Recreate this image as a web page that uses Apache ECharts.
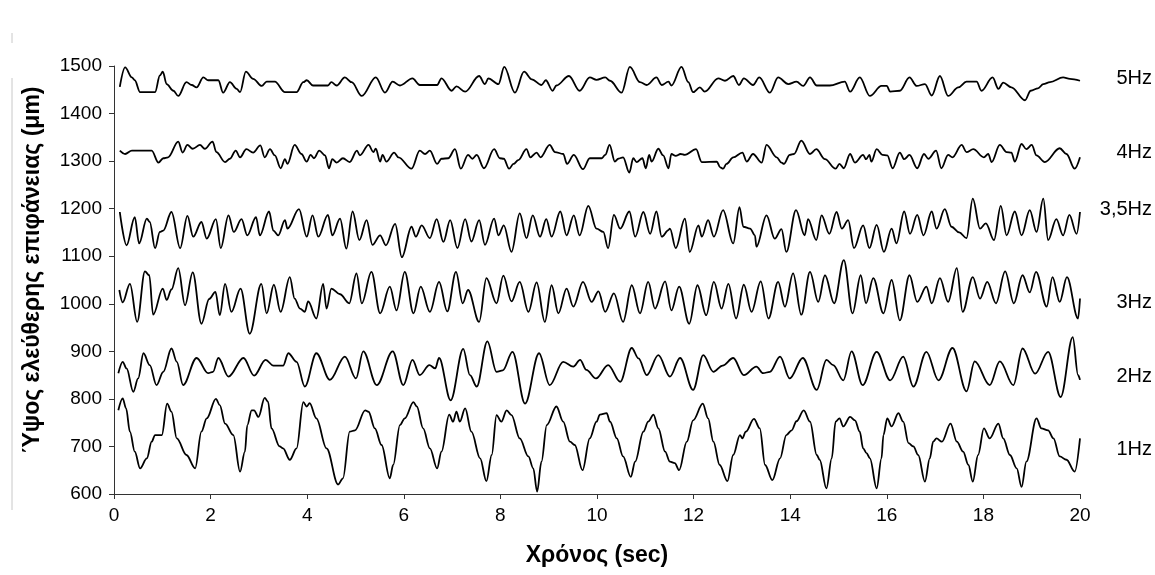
<!DOCTYPE html>
<html>
<head>
<meta charset="utf-8">
<script src="https://cdn.jsdelivr.net/npm/echarts@6/dist/echarts.min.js"></script>
<style>
html,body{margin:0;padding:0;background:#fff;}
#chart{width:1155px;height:575px;}
</style>
</head>
<body>
<div id="chart"></div>
<script>
// ---- DATA (time in sec, height in μm) ----
const seriesNames = ['5Hz', '4Hz', '3,5Hz', '3Hz', '2Hz', '1Hz'];
const labelValues = [1474, 1318, 1198, 1003, 848, 693];

const hz5 = [
[0.12,1456],[0.23,1497],[0.37,1476],[0.43,1470],[0.54,1445],[0.85,1445],[0.95,1480],[1.01,1488],[1.09,1462],[1.23,1448],[1.33,1437],[1.50,1466],[1.61,1460],[1.71,1455],[1.85,1476],[1.95,1470],[2.16,1470],[2.26,1444],[2.40,1466],[2.54,1452],[2.61,1445],[2.73,1488],[2.88,1473],[3.06,1458],[3.16,1467],[3.33,1467],[3.54,1445],[3.78,1445],[3.92,1466],[3.99,1470],[4.12,1459],[4.43,1459],[4.50,1466],[4.61,1459],[4.78,1476],[4.92,1466],
[5.13,1437],[5.42,1476],[5.61,1444],[5.77,1467],[5.92,1459],[6.18,1474],[6.33,1460],[6.69,1460],[6.78,1474],[6.99,1448],[7.09,1457],[7.27,1446],[7.56,1479],[7.68,1462],[7.75,1474],[7.96,1462],[8.08,1498],[8.30,1444],[8.49,1488],[8.65,1472],[8.85,1460],[8.94,1470],[9.08,1448],[9.16,1459],[9.42,1479],[9.64,1448],[9.85,1476],
[9.99,1471],[10.17,1476],[10.27,1469],[10.51,1444],[10.68,1498],[10.89,1466],[11.03,1460],[11.23,1476],[11.34,1460],[11.48,1467],[11.54,1459],[11.75,1498],[11.89,1466],[11.99,1445],[12.13,1455],[12.23,1446],[12.51,1474],[12.65,1469],[12.82,1479],[12.94,1460],[13.04,1474],[13.23,1460],[13.36,1476],[13.58,1444],[13.75,1476],[13.96,1462],[14.13,1467],[14.27,1458],[14.41,1476],[14.55,1459],[14.82,1459],
[15.13,1467],[15.24,1446],[15.44,1476],[15.65,1437],[15.89,1458],[16.00,1458],[16.07,1446],[16.27,1448],[16.47,1476],[16.62,1458],[16.79,1462],[16.93,1438],[17.10,1479],[17.27,1437],[17.48,1455],[17.65,1467],[17.86,1467],[17.96,1448],[18.19,1476],[18.31,1452],[18.41,1465],[18.58,1455],[18.86,1428],[18.98,1448],[19.13,1453],[19.24,1462],[19.38,1466],[19.65,1476],[19.79,1473],[20.0,1469]
];

const hz4 = [
[0.12,1322],[0.23,1315],[0.37,1322],[0.78,1322],[0.92,1297],[1.02,1306],[1.12,1308],[1.33,1341],[1.42,1318],[1.52,1334],[1.63,1326],[1.78,1334],[1.88,1326],[2.04,1341],[2.12,1319],[2.30,1298],[2.40,1305],[2.52,1322],[2.61,1308],[2.74,1325],[2.88,1318],[3.03,1333],[3.12,1308],[3.23,1325],[3.33,1312],[3.45,1285],[3.54,1304],[3.59,1294],[3.74,1334],[3.88,1315],[3.99,1299],[4.07,1313],[4.14,1306],[4.25,1322],[4.37,1312],[4.45,1285],[4.52,1304],[4.61,1297],[4.74,1306],[4.88,1298],[5.03,1322],
[5.09,1312],[5.27,1334],[5.37,1319],[5.42,1326],[5.51,1299],[5.56,1313],[5.64,1299],[5.80,1318],[5.89,1308],[6.16,1284],[6.33,1322],[6.44,1315],[6.54,1322],[6.69,1294],[6.78,1305],[6.92,1306],[7.06,1325],[7.18,1284],[7.33,1313],[7.42,1305],[7.51,1313],[7.66,1285],[7.87,1325],[7.99,1306],[8.07,1305],[8.18,1284],[8.27,1294],[8.37,1302],[8.54,1325],[8.62,1308],[8.75,1318],[8.83,1308],[9.02,1334],[9.13,1319],[9.30,1315],[9.38,1294],[9.52,1313],[9.71,1283],[9.85,1306],
[10.10,1306],[10.17,1313],[10.26,1334],[10.37,1299],[10.44,1305],[10.54,1308],[10.67,1276],[10.75,1306],[10.82,1298],[10.94,1306],[11.01,1285],[11.08,1313],[11.13,1299],[11.27,1326],[11.37,1312],[11.48,1285],[11.54,1315],[11.63,1311],[11.73,1315],[11.82,1313],[12.05,1325],[12.17,1298],[12.48,1299],[12.55,1287],[12.61,1284],[12.68,1294],[12.82,1308],[13.01,1318],[13.10,1299],[13.23,1315],[13.41,1297],[13.51,1334],[13.72,1308],[13.82,1297],[13.87,1294],[13.99,1313],[14.08,1315],[14.23,1343],[14.41,1315],[14.54,1325],[14.72,1304],[14.94,1284],
[15.02,1294],[15.11,1285],[15.24,1315],[15.34,1297],[15.51,1313],[15.57,1304],[15.64,1313],[15.68,1299],[15.79,1325],[15.91,1313],[16.01,1312],[16.12,1285],[16.27,1318],[16.36,1304],[16.47,1313],[16.63,1285],[16.77,1315],[16.86,1305],[17.02,1322],[17.13,1285],[17.27,1313],[17.36,1308],[17.55,1334],[17.65,1319],[17.79,1325],[18.01,1308],[18.10,1315],[18.17,1298],[18.34,1334],[18.48,1319],[18.58,1318],[18.65,1299],[18.79,1336],[18.89,1325],[19.00,1334],[19.10,1312],[19.27,1298],[19.58,1327],[19.72,1315],[19.89,1284],[20.0,1308]
];

const hz35 = [
[0.12,1193],[0.26,1123],[0.43,1182],[0.52,1127],[0.68,1179],[0.74,1172],[0.85,1117],[0.95,1151],[1.02,1154],[1.19,1193],[1.37,1117],[1.52,1185],[1.64,1141],[1.81,1172],[1.92,1137],[2.11,1178],[2.21,1117],[2.37,1186],[2.48,1151],[2.64,1178],[2.76,1144],[2.94,1182],[3.02,1144],[3.21,1194],[3.30,1154],[3.40,1144],[3.54,1176],[3.59,1158],[3.83,1199],[3.99,1141],[4.11,1186],[4.23,1141],[4.43,1187],[4.52,1144],[4.68,1179],[4.81,1116],[4.94,1194],
[5.08,1134],[5.23,1176],[5.35,1124],[5.51,1144],[5.63,1123],[5.82,1168],[5.96,1098],[6.16,1162],[6.25,1141],[6.37,1165],[6.54,1138],[6.68,1178],[6.82,1130],[6.96,1176],[7.11,1117],[7.27,1178],[7.40,1131],[7.56,1176],[7.68,1124],[7.87,1179],[7.96,1144],[8.07,1165],[8.23,1109],[8.40,1190],[8.54,1138],[8.67,1186],[8.82,1141],[8.95,1178],[9.06,1141],[9.24,1194],[9.37,1144],[9.52,1186],[9.64,1144],[9.82,1206],
[9.99,1158],[10.13,1151],[10.23,1117],[10.35,1187],[10.48,1158],[10.67,1194],[10.79,1141],[10.96,1193],[11.10,1147],[11.23,1194],[11.34,1141],[11.48,1155],[11.51,1158],[11.63,1117],[11.82,1179],[11.92,1109],[12.10,1165],[12.17,1141],[12.30,1176],[12.42,1141],[12.61,1197],[12.82,1127],[12.95,1203],[13.03,1162],[13.17,1158],[13.27,1144],[13.30,1120],[13.51,1186],[13.68,1137],[13.82,1157],[13.92,1109],[14.12,1197],[14.30,1144],[14.37,1178],[14.54,1134],[14.65,1186],[14.81,1147],[14.96,1193],
[15.07,1158],[15.20,1176],[15.32,1117],[15.51,1165],[15.64,1117],[15.79,1166],[15.94,1109],[16.10,1158],[16.20,1127],[16.36,1194],[16.48,1147],[16.63,1187],[16.76,1144],[16.93,1194],[17.03,1158],[17.20,1199],[17.34,1162],[17.50,1150],[17.65,1138],[17.78,1221],[17.93,1158],[18.05,1169],[18.22,1134],[18.36,1206],[18.48,1144],[18.65,1194],[18.79,1144],[18.96,1197],[19.10,1151],[19.24,1221],[19.34,1134],[19.51,1178],[19.65,1144],[19.78,1187],[19.93,1147],[20.0,1193]
];

const hz3 = [
[0.11,1029],[0.18,1003],[0.33,1042],[0.48,962],[0.64,1068],[0.73,1060],[0.81,977],[1.01,1032],[1.09,1008],[1.19,1030],[1.33,1075],[1.47,997],[1.63,1066],[1.81,958],[1.97,1010],[2.10,1025],[2.19,976],[2.30,1042],[2.43,983],[2.62,1032],[2.81,937],[3.05,1042],[3.16,980],[3.31,1040],[3.45,983],[3.64,1056],[3.74,1011],[3.85,990],[3.95,983],[4.02,1005],[4.19,969],[4.33,1042],[4.40,990],[4.50,1032],[4.68,1020],[4.87,1001],[5.02,1064],
[5.13,1001],[5.33,1067],[5.51,980],[5.71,1036],[5.85,986],[6.02,1067],[6.20,980],[6.35,1036],[6.54,983],[6.73,1046],[6.90,984],[7.08,1067],[7.22,1001],[7.33,1029],[7.56,962],[7.71,1054],[7.92,1001],[8.06,1059],[8.23,1005],[8.40,1046],[8.58,983],[8.75,1045],[8.92,962],[9.06,1039],[9.20,980],[9.37,1032],[9.51,994],[9.71,1046],[9.89,1004],
[10.03,1026],[10.17,983],[10.35,1022],[10.54,962],[10.72,1039],[10.89,980],[11.06,1046],[11.20,990],[11.41,1047],[11.54,986],[11.70,1036],[11.91,958],[12.08,1039],[12.26,976],[12.42,1046],[12.58,990],[12.72,1042],[12.88,969],[13.04,1040],[13.20,983],[13.39,1047],[13.55,969],[13.75,1046],[13.89,994],[14.06,1064],[14.23,977],[14.41,1067],[14.58,1004],[14.72,1060],[14.91,1001],
[15.11,1092],[15.29,980],[15.46,1060],[15.57,1001],[15.72,1054],[15.93,980],[16.10,1050],[16.27,965],[16.47,1060],[16.63,1004],[16.82,1036],[16.93,1001],[17.10,1054],[17.27,1004],[17.45,1075],[17.57,983],[17.78,1056],[17.93,1011],[18.08,1046],[18.26,1001],[18.45,1068],[18.63,1001],[18.81,1060],[18.96,1024],[19.09,1067],[19.31,994],[19.43,1056],[19.58,1004],[19.73,1056],[19.96,969],[20.0,1011]
];

const hz2 = [
[0.09,854],[0.18,878],[0.26,864],[0.40,815],[0.50,843],[0.61,896],[0.74,871],[0.88,829],[1.02,857],[1.19,906],[1.30,878],[1.43,829],[1.71,886],[1.95,854],[2.05,857],[2.16,886],[2.37,847],[2.68,886],[2.90,849],[3.14,882],[3.30,870],[3.50,870],[3.61,896],[3.78,878],[3.95,826],[4.19,896],[4.47,840],[4.78,889],[5.01,843],
[5.16,900],[5.44,829],[5.77,900],[5.99,829],[6.18,882],[6.33,850],[6.53,871],[6.65,864],[6.73,886],[6.97,797],[7.23,905],[7.37,850],[7.51,826],[7.73,921],[7.92,857],[8.05,860],[8.25,899],[8.51,790],[8.80,896],[9.02,829],[9.30,878],[9.51,868],[9.65,882],[9.78,861],[9.98,843],
[10.23,871],[10.48,836],[10.72,907],[10.86,885],[11.03,850],[11.27,892],[11.51,847],[11.72,886],[11.99,819],[12.20,892],[12.41,857],[12.60,870],[12.82,886],[13.04,850],[13.30,868],[13.44,854],[13.58,857],[13.79,889],[13.99,843],[14.26,886],[14.55,819],[14.75,882],[14.89,871],
[15.10,839],[15.27,900],[15.50,829],[15.79,899],[16.07,839],[16.34,889],[16.55,826],[16.82,899],[17.07,839],[17.36,907],[17.65,816],[17.82,879],[18.13,829],[18.34,879],[18.62,829],[18.81,906],[19.07,853],[19.34,899],[19.60,804],[19.85,930],[19.96,850],[20.0,840]
];

const hz1 = [
[0.09,776],[0.18,801],[0.25,780],[0.33,731],[0.43,689],[0.54,654],[0.68,675],[0.78,710],[0.85,724],[0.99,724],[1.10,790],[1.19,773],[1.30,717],[1.50,682],[1.68,654],[1.81,731],[1.92,759],[2.11,800],[2.19,787],[2.30,748],[2.47,724],[2.61,647],[2.71,689],[2.76,745],[2.85,776],[2.90,776],[2.99,762],[3.12,802],[3.19,794],[3.26,738],[3.43,700],[3.50,696],[3.64,672],[3.78,696],[3.92,793],[3.99,784],[4.05,791],[4.19,759],[4.40,696],[4.64,620],[4.74,633],[4.88,731],[4.99,734],
[5.20,776],[5.27,773],[5.40,738],[5.54,703],[5.71,633],[5.78,661],[5.92,745],[6.02,759],[6.20,793],[6.27,784],[6.40,738],[6.54,696],[6.69,654],[6.78,689],[6.94,767],[7.02,752],[7.09,773],[7.16,752],[7.27,780],[7.40,731],[7.58,675],[7.71,627],[7.82,682],[7.92,766],[8.02,752],[8.13,776],[8.23,766],[8.40,717],[8.58,679],[8.68,654],[8.76,605],[8.85,668],[8.96,745],[9.16,784],[9.30,752],[9.44,710],[9.54,703],[9.70,650],[9.85,717],[9.99,752],
[10.06,767],[10.20,770],[10.27,752],[10.41,717],[10.54,679],[10.70,636],[10.79,668],[10.96,731],[11.06,752],[11.17,767],[11.27,738],[11.41,689],[11.51,668],[11.61,665],[11.70,650],[11.86,710],[11.99,755],[12.19,790],[12.30,759],[12.41,710],[12.54,661],[12.70,627],[12.82,682],[12.96,724],[13.01,717],[13.08,731],[13.25,758],[13.37,738],[13.48,661],[13.63,629],[13.79,675],[13.92,724],[14.03,734],[14.13,753],[14.28,776],[14.41,752],[14.55,682],[14.61,672],[14.75,612],[14.86,675],[14.94,752],
[15.02,759],[15.10,742],[15.24,762],[15.34,755],[15.44,731],[15.51,696],[15.58,686],[15.65,675],[15.79,612],[15.89,675],[15.93,724],[16.01,759],[16.10,742],[16.24,770],[16.34,752],[16.45,707],[16.55,700],[16.65,682],[16.79,626],[16.89,675],[16.96,710],[17.03,717],[17.14,710],[17.32,748],[17.45,710],[17.58,689],[17.69,661],[17.78,626],[17.89,682],[18.01,738],[18.13,717],[18.31,748],[18.41,717],[18.55,682],[18.69,654],[18.79,615],[18.89,668],[19.10,759],[19.20,738],[19.34,734],[19.45,717],[19.58,679],[19.72,672],[19.89,647],[20.0,717]
];

const allSeries = [hz5, hz4, hz35, hz3, hz2, hz1];

// ---- CHART ----
const chart = echarts.init(document.getElementById('chart'), null, {renderer: 'canvas'});
const FONT = '"Liberation Sans", Arial, sans-serif';

const lineSeries = allSeries.map((d, i) => ({
  name: seriesNames[i],
  type: 'line',
  data: d,
  showSymbol: false,
  smooth: 0.35,
  smoothMonotone: 'x',
  lineStyle: {color: '#000', width: 1.8},
  silent: true,
  animation: false
}));

const labelSeries = {
  type: 'scatter',
  symbolSize: 0,
  silent: true,
  animation: false,
  itemStyle: {opacity: 1, color: '#000'},
  data: labelValues.map((v, i) => ({value: [20, v], name: seriesNames[i]})),
  label: {
    show: true,
    position: 'right',
    distance: 0,
    align: 'right',
    offset: [72, 0],
    formatter: p => p.name,
    color: '#000',
    opacity: 1,
    fontFamily: FONT,
    fontSize: 20
  }
};

chart.setOption({
  backgroundColor: '#fff',
  animation: false,
  grid: {left: 114, right: 75, top: 66, bottom: 81, containLabel: false},
  graphic: [
    {type: 'line', shape: {x1: 12, y1: 78, x2: 12, y2: 510}, style: {stroke: '#c8c8c8', lineWidth: 1}, silent: true},
    {type: 'line', shape: {x1: 12, y1: 33, x2: 12, y2: 43}, style: {stroke: '#c8c8c8', lineWidth: 1}, silent: true}
  ],
  xAxis: {
    type: 'value', min: 0, max: 20, interval: 2,
    name: 'Χρόνος (sec)', nameLocation: 'middle', nameGap: 50,
    nameTextStyle: {fontFamily: FONT, fontSize: 23, fontWeight: 'bold', color: '#000'},
    axisLine: {show: true, lineStyle: {color: '#333', width: 1}},
    axisTick: {show: true, length: 5, inside: false, lineStyle: {color: '#333'}},
    axisLabel: {fontFamily: FONT, fontSize: 19, color: '#000', margin: 12},
    splitLine: {show: false}
  },
  yAxis: {
    type: 'value', min: 600, max: 1500, interval: 100,
    name: 'Ύψος ελεύθερης επιφάνειας (μm)', nameLocation: 'middle', nameGap: 70,
    nameTextStyle: {fontFamily: FONT, fontSize: 23, fontWeight: 'bold', color: '#000', padding: [0, 0, 0, 20]},
    axisLine: {show: true, lineStyle: {color: '#333', width: 1}},
    axisTick: {show: true, length: 5, inside: false, lineStyle: {color: '#333'}},
    axisLabel: {fontFamily: FONT, fontSize: 19, color: '#000', margin: 12, formatter: v => String(v)},
    splitLine: {show: false}
  },
  series: [...lineSeries, labelSeries]
});
</script>
</body>
</html>
